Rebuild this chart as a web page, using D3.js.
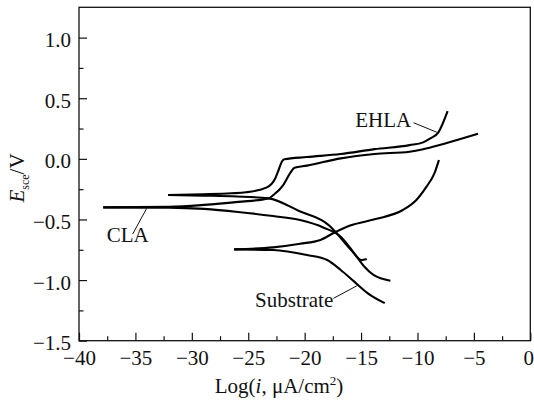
<!DOCTYPE html>
<html>
<head>
<meta charset="utf-8">
<script src="https://cdn.jsdelivr.net/npm/d3@7"></script>
<style>
  body { margin: 0; background: #fff; }
  text { font-family: "Liberation Serif", "Times New Roman", serif; fill: #111; }
</style>
</head>
<body>
<div id="chart"></div>
<script>
// polarization curves, [log i, E]
const claAnodic = [[-37.85,-0.400],[-32,-0.396],[-28.9,-0.380],[-25.9,-0.355],[-23.2,-0.327],[-22.8,-0.300],[-21.9,-0.216],[-21.3,-0.120],[-20.9,-0.073],[-19.8,-0.056],[-16.8,0.004],[-13.8,0.040],[-10.7,0.059],[-9.5,0.079],[-7.7,0.123],[-4.63,0.207]]
const claCathodic = [[-37.85,-0.400],[-32,-0.402],[-28.9,-0.413],[-25.9,-0.438],[-22.8,-0.472],[-20.4,-0.505],[-18.3,-0.568],[-16.8,-0.642],[-15.6,-0.780],[-14.7,-0.890],[-13.9,-0.958],[-12.4,-1.005]]
const ehlaAnodic = [[-32.1,-0.298],[-29,-0.292],[-26.5,-0.284],[-25.2,-0.276],[-23.35,-0.235],[-22.6,-0.160],[-22.3,-0.090],[-22.0,-0.020],[-21.8,-0.004],[-19.8,0.015],[-16.8,0.040],[-13.8,0.080],[-10.7,0.113],[-9.5,0.136],[-8.9,0.167],[-8.16,0.217],[-7.33,0.394]]
const ehlaCathodic = [[-32.1,-0.298],[-29,-0.303],[-26,-0.310],[-23.2,-0.326],[-20.5,-0.430],[-17.8,-0.552],[-17.3,-0.600],[-15.9,-0.750],[-14.95,-0.835],[-14.5,-0.826]]
const subAnodic = [[-26.25,-0.747],[-22.8,-0.730],[-20.4,-0.700],[-18.6,-0.669],[-17.4,-0.610],[-15.9,-0.548],[-13.8,-0.499],[-11.3,-0.422],[-10.1,-0.339],[-9.2,-0.229],[-8.5,-0.120],[-8.1,-0.010]]
const subCathodic = [[-26.25,-0.747],[-22.8,-0.752],[-19.8,-0.793],[-18,-0.834],[-16.8,-0.917],[-15.6,-1.013],[-14.4,-1.109],[-12.9,-1.190]]

const xTicks = [-40, -35, -30, -25, -20, -15, -10, -5, 0]
const yTicks = [-1.5, -1.0, -0.5, 0.0, 0.5, 1.0]

// annotation: label, text anchor point, leader line from / to
const labels = [
  {name: "CLA", at: [-37.55, -0.684], from: [-35.24, -0.62], to: [-34.0, -0.408]},
  {name: "EHLA", at: [-15.52, 0.265], from: [-10.35, 0.298], to: [-8.28, 0.219]},
  {name: "Substrate", at: [-24.39, -1.22], from: [-17.45, -1.151], to: [-15.37, -1.047]}
]

var margin = {top: 7.3, right: 3.7, bottom: 63.3, left: 79},
    width = 534 - margin.left - margin.right,
    height = 404 - margin.top - margin.bottom;

var svg = d3.select("#chart")
  .append("svg")
    .attr("width", 534)
    .attr("height", 404)
  .append("g")
    .attr("transform", "translate(" + margin.left + "," + margin.top + ")");

var x = d3.scaleLinear().domain([-40, 0]).range([0, width]);
var y = d3.scaleLinear().domain([-1.5, 1.25]).range([height, 0]);

// minor ticks
var xMinor = d3.range(-37.5, 0, 5)
var yMinor = d3.range(-1.25, 1.25, 0.5)

svg.append("g")
  .attr("transform", "translate(0," + height + ")")
  .call(d3.axisBottom(x).tickValues(xMinor).tickSize(-4.5).tickFormat(""))
svg.append("g")
  .call(d3.axisLeft(y).tickValues(yMinor).tickSize(-4.5).tickFormat(""))

var xAxis = svg.append("g")
  .attr("transform", "translate(0," + height + ")")
  .call(d3.axisBottom(x).tickValues(xTicks).tickSize(-8).tickPadding(9).tickFormat(d3.format("d")))
var yAxis = svg.append("g")
  .call(d3.axisLeft(y).tickValues(yTicks).tickSize(-8).tickPadding(8).tickFormat(d3.format(".1f")))

svg.selectAll(".domain").remove()
svg.selectAll(".tick line").attr("stroke", "#111").attr("stroke-width", 1.2)
xAxis.selectAll("text").style("font-size", "21px")
  .attr("dx", d => d === 0 ? -2 : 0)
yAxis.selectAll("text").style("font-size", "21px").attr("dy", "0.43em")

// frame
svg.append("rect")
  .attr("width", width)
  .attr("height", height)
  .attr("fill", "none")
  .attr("stroke", "#111")
  .attr("stroke-width", 1.3)

var line = d3.line()
  .x(d => x(d[0]))
  .y(d => y(d[1]))
  .curve(d3.curveMonotoneX)

var curves = [claAnodic, claCathodic, ehlaAnodic, ehlaCathodic, subAnodic, subCathodic]
svg.append("g")
  .selectAll("path")
  .data(curves)
  .enter()
  .append("path")
    .attr("d", line)
    .attr("fill", "none")
    .attr("stroke", "#000")
    .attr("stroke-width", 2.1)
    .attr("stroke-linejoin", "round")

// labels with leader lines
svg.append("g")
  .selectAll("line")
  .data(labels)
  .enter()
  .append("line")
    .attr("x1", d => x(d.from[0]))
    .attr("y1", d => y(d.from[1]))
    .attr("x2", d => x(d.to[0]))
    .attr("y2", d => y(d.to[1]))
    .attr("stroke", "#111")
    .attr("stroke-width", 1)

svg.append("g")
  .selectAll("text")
  .data(labels)
  .enter()
  .append("text")
    .attr("x", d => x(d.at[0]))
    .attr("y", d => y(d.at[1]))
    .style("font-size", "21px")
    .text(d => d.name)

// axis titles
var xt = svg.append("text")
  .attr("x", 200)
  .attr("y", 386)
  .attr("text-anchor", "middle")
  .style("font-size", "21px")
xt.append("tspan").text("Log(")
xt.append("tspan").style("font-style", "italic").text("i")
xt.append("tspan").text(", \u03bcA/cm")
xt.append("tspan").attr("dy", -8).style("font-size", "13px").text("2")
xt.append("tspan").attr("dy", 8).text(")")

var yt = svg.append("text")
  .attr("transform", "translate(" + (24 - margin.left) + "," + (178 - margin.top) + ") rotate(-90)")
  .attr("text-anchor", "middle")
  .style("font-size", "21px")
yt.append("tspan").style("font-style", "italic").text("E")
yt.append("tspan").attr("dy", 5).style("font-size", "12px").text("sce")
yt.append("tspan").attr("dy", -5).text("/V")
</script>
</body>
</html>
